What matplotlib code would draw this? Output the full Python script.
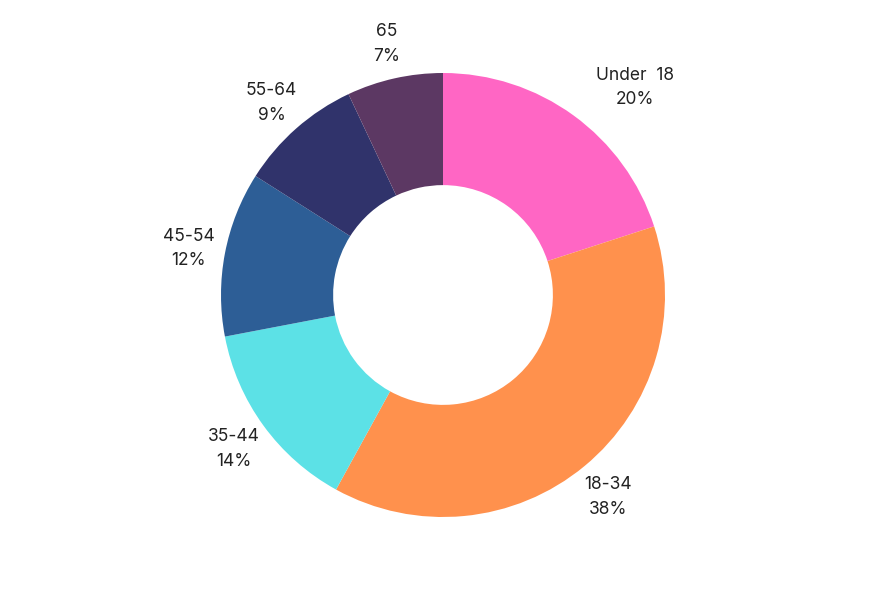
import matplotlib
matplotlib.use("Agg")
import matplotlib.pyplot as plt
import numpy as np

labels = ["Under  18", "18-34", "35-44", "45-54", "55-64", "65"]
values = [20, 38, 14, 12, 9, 7]
colors = ["#FF66C4", "#FF914D", "#5CE1E6", "#2D5E96", "#30336B", "#5C3863"]

plt.rcParams['font.family'] = ['Inter', 'DejaVu Sans']

fig = plt.figure(figsize=(8.86, 5.90), dpi=100)
ax = fig.add_axes([0, 0, 1, 1])
R = 222.0

wedges, _ = ax.pie(values, colors=colors, startangle=90, counterclock=False,
                   radius=1.0, wedgeprops=dict(width=0.505, linewidth=0))
ax.set_xlim(-443 / R, 443 / R)
ax.set_ylim(-295 / R, 295 / R)
ax.set_aspect('equal')
ax.axis('off')

nudge = [0.18, 0, 0, 0, 0, 0]
for w, lab, v, dx in zip(wedges, labels, values, nudge):
    ang = np.deg2rad((w.theta1 + w.theta2) / 2)
    r = 1.167
    x = r * np.cos(ang) + dx
    y = r * np.sin(ang) - 2 / R
    ax.text(x, y, f"{lab}\n{v}%", ha='center', va='center', fontsize=12.5,
            color='#222222', linespacing=1.6)

fig.savefig("out.png", dpi=100, facecolor='white')
